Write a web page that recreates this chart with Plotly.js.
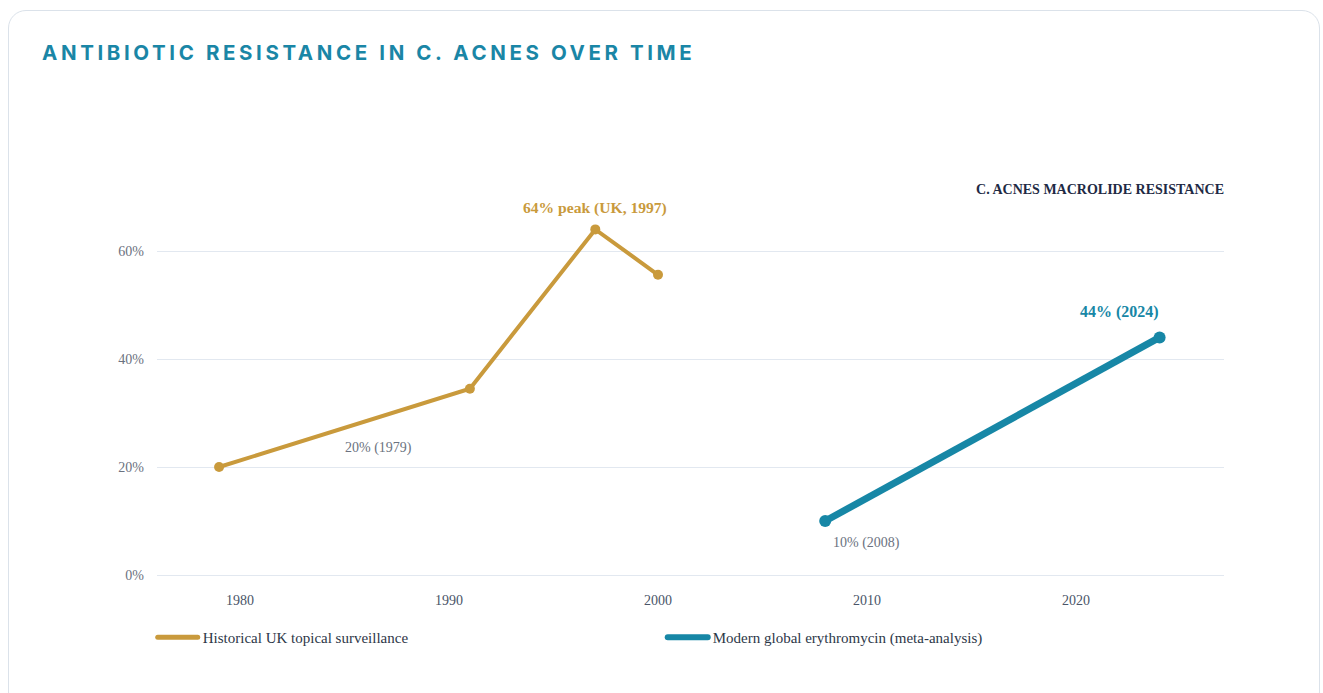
<!DOCTYPE html>
<html>
<head>
<meta charset="utf-8">
<script src="https://cdn.plot.ly/plotly-3.0.1.min.js"></script>
<style>
  html, body { margin: 0; padding: 0; background: #ffffff; width: 1323px; height: 693px; overflow: hidden; }
  #card { position: absolute; left: 8px; top: 10px; width: 1312px; height: 700px; border: 1.5px solid #dbe2ea; border-radius: 18px; box-sizing: border-box; background: #fff; }
  #heading { position: absolute; left: 42px; top: 40px; margin: 0; font-family: Inter, "Open Sans", sans-serif; font-weight: 700; font-size: 20.5px; letter-spacing: 3.6px; color: #1a86a6; white-space: nowrap; }
  #chart { position: absolute; left: 0; top: 0; width: 1323px; height: 693px; }
  #chart .legend .legendlines path { stroke-linecap: round; }
</style>
</head>
<body>
<div id="card"></div>
<h2 id="heading">ANTIBIOTIC RESISTANCE IN C. ACNES OVER TIME</h2>
<div id="chart"></div>
<script>
// Historical UK topical surveillance
const histName = 'Historical UK topical surveillance';
const histYears = [1979, 1991, 1997, 2000];
const histValues = [20, 34.5, 64, 55.6];
// Modern global erythromycin (meta-analysis)
const modName = 'Modern global erythromycin (meta-analysis)';
const modYears = [2008, 2024];
const modValues = [10, 44];
const yTicks = [0, 20, 40, 60];
const yTickLabels = ['0%', '20%', '40%', '60%'];
const xTicks = [1980, 1990, 2000, 2010, 2020];

const gold = '#c99a3c';
const teal = '#1787a6';
const serif = '"Liberation Serif", "Times New Roman", serif';

const traces = [
  {
    x: histYears, y: histValues, type: 'scatter', mode: 'lines+markers',
    name: histName, showlegend: false, legendgroup: 'hist',
    line: { color: gold, width: 4 }, marker: { color: gold, size: 10 },
    hoverinfo: 'x+y'
  },
  {
    x: modYears, y: modValues, type: 'scatter', mode: 'lines+markers',
    name: modName, showlegend: false, legendgroup: 'mod',
    line: { color: teal, width: 7 }, marker: { color: teal, size: 12 },
    hoverinfo: 'x+y'
  },
  // legend entries (line only)
  { x: [null], y: [null], type: 'scatter', mode: 'lines', name: histName, legendgroup: 'hist',
    line: { color: gold, width: 5 }, hoverinfo: 'skip' },
  { x: [null], y: [null], type: 'scatter', mode: 'lines', name: modName, legendgroup: 'mod',
    line: { color: teal, width: 6 }, hoverinfo: 'skip' }
];

const annotations = [
  { x: histYears[0], y: histValues[0], text: '20% (1979)', xshift: 159, yshift: 19,
    font: { family: serif, size: 14, color: '#6b7280' } },
  { x: histYears[2], y: histValues[2], text: '64% peak (UK, 1997)', xshift: 0, yshift: 21,
    font: { family: serif, size: 15.6, color: gold, weight: 'bold' } },
  { x: modYears[0], y: modValues[0], text: '10% (2008)', xshift: 41, yshift: -22,
    font: { family: serif, size: 14, color: '#6b7280' } },
  { x: modYears[1], y: modValues[1], text: '44% (2024)', xshift: -40, yshift: 25,
    font: { family: serif, size: 16, color: teal, weight: 'bold' } }
].map(a => Object.assign({ xref: 'x', yref: 'y', showarrow: false, xanchor: 'center', yanchor: 'middle' }, a));

const layout = {
  width: 1323, height: 693,
  paper_bgcolor: 'rgba(0,0,0,0)', plot_bgcolor: 'rgba(0,0,0,0)',
  margin: { l: 157, r: 99, t: 197, b: 118 },
  font: { family: serif, size: 14, color: '#4a5568' },
  title: {
    text: 'C. ACNES MACROLIDE RESISTANCE',
    font: { family: serif, size: 14, color: '#1e2a44', weight: 'bold' },
    x: 1, xref: 'paper', xanchor: 'right', y: 1, yref: 'paper', yanchor: 'bottom', pad: { b: 3 }
  },
  xaxis: {
    range: [1976.03, 2027.08], tickvals: xTicks, showgrid: false, zeroline: false,
    showline: false, ticks: '', ticklabelstandoff: 15,
    tickfont: { family: serif, size: 14, color: '#4a5568' }
  },
  yaxis: {
    range: [0, 70], tickvals: yTicks, ticktext: yTickLabels, showgrid: true,
    gridcolor: '#e2e8f0', gridwidth: 1, zeroline: true, zerolinecolor: '#e2e8f0', zerolinewidth: 1,
    showline: false, ticks: '',
    ticklabelstandoff: 12, tickfont: { family: serif, size: 14, color: '#6b7280' }
  },
  showlegend: true,
  legend: {
    orientation: 'h', x: -0.004, xanchor: 'left', y: -0.122, yanchor: 'top',
    font: { family: serif, size: 15, color: '#2d3748' },
    itemwidth: 40, entrywidth: 455, bgcolor: 'rgba(0,0,0,0)'
  },
  annotations: annotations
};

Plotly.newPlot('chart', traces, layout, { displayModeBar: false });
</script>
</body>
</html>
